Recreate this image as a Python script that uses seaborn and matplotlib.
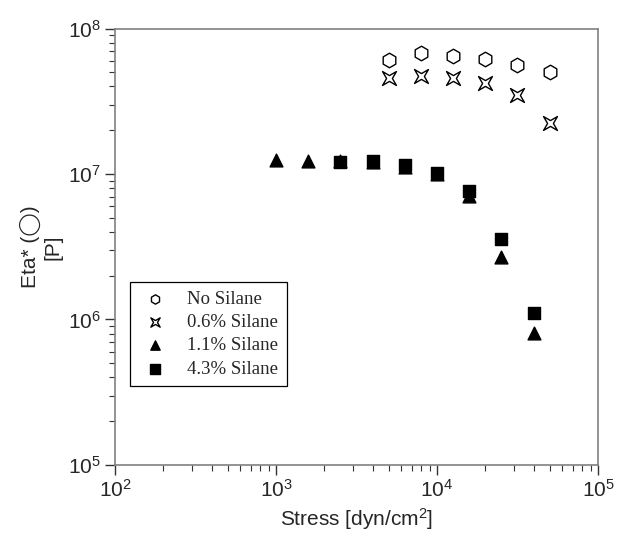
import numpy as np
import pandas as pd
import seaborn as sns
import matplotlib.pyplot as plt
from matplotlib.path import Path
from matplotlib.ticker import LogLocator, NullFormatter

# values
stress_no = [5012, 7943, 12590, 19950, 31620, 50120]
eta_no = [6.1e7, 6.8e7, 6.5e7, 6.15e7, 5.6e7, 5.0e7]

stress_06 = [5012, 7943, 12590, 19950, 31620, 50120]
eta_06 = [4.56e7, 4.75e7, 4.56e7, 4.25e7, 3.5e7, 2.23e7]

stress_11 = [1000, 1585, 2512, 3981, 6310, 10000, 15850, 25120, 39810]
eta_11 = [1.24e7, 1.22e7, 1.22e7, 1.2e7, 1.12e7, 1.0e7, 7.1e6, 2.67e6, 8.1e5]

stress_43 = [2512, 3981, 6310, 10000, 15850, 25120, 39810]
eta_43 = [1.2e7, 1.22e7, 1.15e7, 1.02e7, 7.7e6, 3.6e6, 1.1e6]

labels = ["No Silane", "0.6% Silane", "1.1% Silane", "4.3% Silane"]

# concave four-point star (points on the diagonals)
k = 0.42
star = Path([(-1, -1), (0, -k), (1, -1), (k, 0), (1, 1), (0, k), (-1, 1), (-k, 0), (-1, -1)],
            [Path.MOVETO] + [Path.LINETO] * 7 + [Path.CLOSEPOLY])

sns.set_style("white")
plt.rcParams['font.family'] = ['Liberation Sans', 'DejaVu Sans']
plt.rcParams['mathtext.default'] = 'regular'

fig = plt.figure(figsize=(6.17, 5.37), dpi=100)
ax = fig.add_axes([0.1864, 0.1341, 0.7828, 0.8128])

series = [
    (stress_no, eta_no, labels[0], 'h', 'white', 110),
    (stress_06, eta_06, labels[1], star, 'white', 100),
    (stress_11, eta_11, labels[2], '^', 'black', 85),
    (stress_43, eta_43, labels[3], 's', 'black', 75),
]
for xs, ys, lab, mk, fc, sz in series:
    df = pd.DataFrame({'stress': xs, 'eta': ys})
    sns.scatterplot(data=df, x='stress', y='eta', marker=mk, s=sz, facecolor=fc,
                    edgecolor='black', linewidth=1.0, label=lab, ax=ax, zorder=3)

ax.set_xscale('log')
ax.set_yscale('log')
ax.set_xlim(1e2, 1e5)
ax.set_ylim(1e5, 1e8)
ax.xaxis.set_major_locator(LogLocator(base=10, numticks=10))
ax.yaxis.set_major_locator(LogLocator(base=10, numticks=10))
ax.xaxis.set_minor_locator(LogLocator(base=10, subs=np.arange(2, 10), numticks=20))
ax.yaxis.set_minor_locator(LogLocator(base=10, subs=np.arange(2, 10), numticks=20))
ax.xaxis.set_minor_formatter(NullFormatter())
ax.yaxis.set_minor_formatter(NullFormatter())

for sp in ax.spines.values():
    sp.set_color('#808080')
    sp.set_linewidth(1.2)
ax.tick_params(which='major', direction='out', length=7, width=1, color='#333333',
               labelsize=15, bottom=True, left=True, top=False, right=False, pad=3)
ax.tick_params(which='minor', direction='out', length=4, width=0.8, color='#333333',
               bottom=True, left=True, top=False, right=False)

ax.set_xlabel('Stress [dyn/cm$^2$]', fontsize=15, labelpad=4)
ax.set_ylabel('Eta* (\u25ef)\n[P]', fontsize=15, labelpad=4, linespacing=1.15)

leg = ax.legend(loc='upper left', bbox_to_anchor=(0.031, 0.419), borderaxespad=0,
                frameon=True, fancybox=False, edgecolor='black', framealpha=1,
                prop={'family': 'Liberation Serif', 'size': 13.5},
                handletextpad=0.8, labelspacing=0.33, borderpad=0.45, handlelength=1.8)
leg.get_frame().set_linewidth(0.9)
for h in leg.legend_handles:
    h.set_sizes([45])

fig.savefig('out.png', dpi=100)
